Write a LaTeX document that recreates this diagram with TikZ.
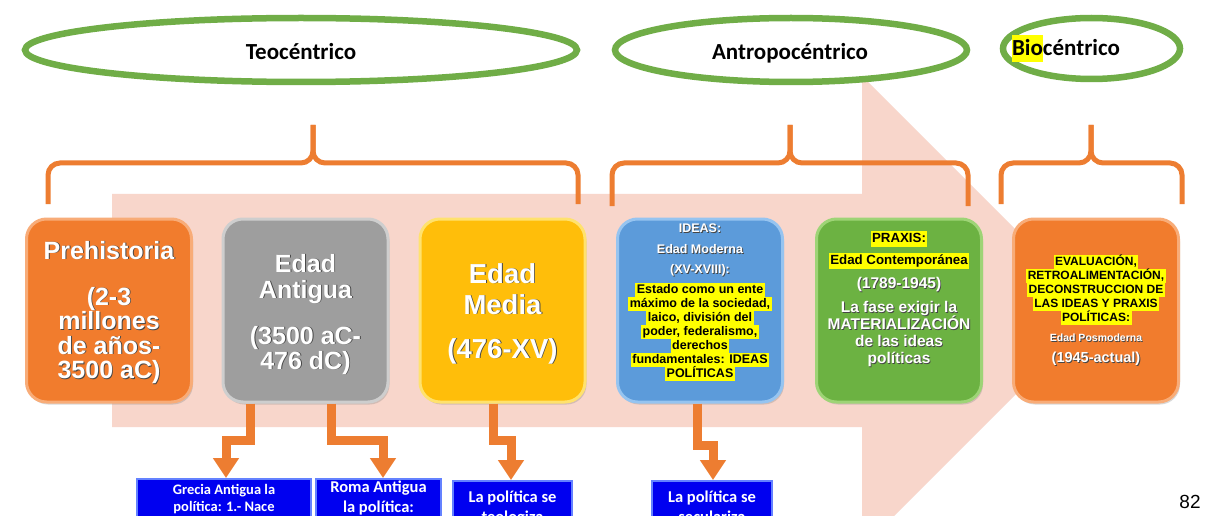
\documentclass[tikz,border=0pt]{standalone}
\usepackage{fontspec}
\setmainfont{Liberation Sans}
\newfontfamily\calib{Carlito}
\usetikzlibrary{arrows.meta,shapes.geometric,calc,shadows}
\definecolor{pinkbg}{RGB}{248,214,203}
\definecolor{grn}{RGB}{112,173,71}
\definecolor{orA}{RGB}{237,125,49}
\definecolor{hly}{RGB}{255,255,0}
\definecolor{shd}{RGB}{70,70,70}
\definecolor{orM}{RGB}{241,124,45}
\definecolor{orL}{RGB}{248,172,120}
\definecolor{gyM}{RGB}{158,158,158}
\definecolor{gyL}{RGB}{206,206,206}
\definecolor{gdM}{RGB}{255,190,10}
\definecolor{gdL}{RGB}{255,226,110}
\definecolor{blM}{RGB}{92,155,218}
\definecolor{blL}{RGB}{150,196,240}
\definecolor{gnM}{RGB}{108,178,66}
\definecolor{gnL}{RGB}{158,212,118}
\definecolor{bbx}{RGB}{0,0,240}
\definecolor{bbL}{RGB}{100,130,255}
\newcommand\sh[1]{\leavevmode\rlap{\kern0.9pt\raisebox{-0.9pt}{\textcolor{shd}{#1}}}#1}
\newcommand\hl[1]{{\setlength{\fboxsep}{0pt}\colorbox{hly}{\rule[-0.28em]{0pt}{1.15em}\kern1.5pt#1\kern1.5pt}}}
\newcommand\hlz[1]{{\setlength{\fboxsep}{0pt}\colorbox{hly}{\rule[-0.3em]{0pt}{1.2em}#1}}}
\begin{document}
\begin{tikzpicture}[x=1pt,y=-1pt,
  elp/.style={ellipse, draw=grn, line width=6.5pt, fill=white, inner sep=0pt},
  era/.style={rectangle, draw=#1L, fill=#1M, line width=3pt, rounded corners=20pt,
    minimum width=165pt, minimum height=183pt, inner sep=0pt,
    drop shadow={shadow xshift=1.5pt, shadow yshift=-2.5pt, opacity=0.3}},
  wt/.style={anchor=base, inner sep=0pt, text=white, font=\bfseries\fontsize{#1}{#1}\selectfont},
  bk/.style={anchor=base, inner sep=0pt, text=black, font=\bfseries\fontsize{#1}{#1}\selectfont},
  bw/.style={anchor=base, inner sep=0pt, text=white, font=\calib\bfseries\fontsize{#1}{#1}\selectfont},
  elabel/.style={anchor=base, inner sep=0pt, text=black, font=\calib\bfseries\fontsize{23}{23}\selectfont},
  bluebox/.style={rectangle, anchor=north, draw=bbL, fill=bbx, line width=1.5pt, minimum height=80pt, inner sep=0pt},
  brc/.style={draw=orA, line width=5pt, rounded corners=12pt},
  elbow/.style={draw=orA, line width=9pt, line join=miter, -{Triangle[width=25pt,length=20pt]}}
]
\useasboundingbox (0,0) rectangle (1208,516);
\clip (0,0) rectangle (1208,516);
\fill[white] (0,0) rectangle (1208,516);
% big background arrow
\fill[pinkbg] (112,194) -- (862,194) -- (862,76) -- (1098,312) -- (862,548) -- (862,427) -- (112,427) -- cycle;
% ellipses
\node[elp, minimum width=552pt, minimum height=64pt] (teo) at (301,50) {};
\node[elp, minimum width=352pt, minimum height=64pt] (ant) at (791,50) {};
\node[elp, minimum width=177pt, minimum height=61pt] (bio) at (1091.5,48.5) {};
\node[elabel] (teoT) at (301,59.5) {Teocéntrico};
\node[elabel] (antT) at (790,59.5) {Antropocéntrico};
\node[elabel] (bioT) at (1066,55.5) {\hlz{Bio}céntrico};
% braces
\draw[brc] (48,204) -- (48,163) -- (313,163) -- (313,125);
\draw[brc] (578,204) -- (578,163) -- (313,163) -- (313,125);
\draw[brc] (612,206) -- (612,163) -- (790,163) -- (790,125);
\draw[brc] (968,206) -- (968,163) -- (790,163) -- (790,125);
\draw[brc] (1001,204) -- (1001,163) -- (1091,163) -- (1091,125);
\draw[brc] (1182,204) -- (1182,163) -- (1091,163) -- (1091,125);
% era boxes
\node[era=or] (pre) at (109,310.5) {};
\node[era=gy] (anti) at (305.5,310.5) {};
\node[era=gd] (med) at (502.5,310.5) {};
\node[era=bl] (ide) at (700,310.5) {};
\node[era=gn] (pra) at (899,310.5) {};
\node[era=or] (eva) at (1096,310.5) {};
% Prehistoria
\node[wt=25] (p1) at (109,259) {\sh{Prehistoria}};
\node[wt=25] (p2) at (109,305) {\sh{(2-3}};
\node[wt=25] (p3) at (109,329.5) {\sh{millones}};
\node[wt=25] (p4) at (109,354) {\sh{de años-}};
\node[wt=25] (p5) at (109,378.5) {\sh{3500 aC)}};
% Edad Antigua
\node[wt=25] (a1) at (305.5,272) {\sh{Edad}};
\node[wt=25] (a2) at (305.5,298) {\sh{Antigua}};
\node[wt=25] (a3) at (305.5,344) {\sh{(3500 aC-}};
\node[wt=25] (a4) at (305.5,369) {\sh{476 dC)}};
% Edad Media
\node[wt=27.5] (m1) at (502.5,283) {\sh{Edad}};
\node[wt=27.5] (m2) at (502.5,314) {\sh{Media}};
\node[wt=27.5] (m3) at (502.5,358) {\sh{(476-XV)}};
% IDEAS
\node[wt=12.5] (i1) at (700,232.5) {\sh{IDEAS:}};
\node[wt=12.5] (i2) at (700,253.5) {\sh{Edad Moderna}};
\node[wt=12.5] (i3) at (700,273.5) {\sh{(XV-XVIII):}};
\node[bk=12.5] (i4) at (700,293.5) {\hl{Estado como un ente}};
\node[bk=12.5] (i5) at (700,307.5) {\hl{máximo de la sociedad,}};
\node[bk=12.5] (i6) at (700,321.5) {\hl{laico, división del}};
\node[bk=12.5] (i7) at (700,335.5) {\hl{poder, federalismo,}};
\node[bk=12.5] (i8) at (700,349.5) {\hl{derechos}};
\node[bk=12.5] (i9) at (700,363.5) {\hl{fundamentales: IDEAS}};
\node[bk=12.5] (i10) at (700,377.5) {\hl{POLÍTICAS}};
% PRAXIS
\node[bk=13.3] (x1) at (899,242.8) {\hl{PRAXIS:}};
\node[bk=13.3] (x2) at (899,264.8) {\hl{Edad Contemporánea}};
\node[wt=15.5] (x3) at (899,288.6) {\sh{(1789-1945)}};
\node[wt=15.5] (x4) at (899,312.6) {\sh{La fase exigir la}};
\node[wt=15.5] (x5) at (899,329.6) {\sh{MATERIALIZACIÓN}};
\node[wt=15.5] (x6) at (899,346.6) {\sh{de las ideas}};
\node[wt=15.5] (x7) at (899,363.6) {\sh{políticas}};
% EVALUACION
\node[bk=12] (e1) at (1096,265.3) {\hl{EVALUACIÓN,}};
\node[bk=12] (e2) at (1096,279.3) {\hl{RETROALIMENTACIÓN,}};
\node[bk=12] (e3) at (1096,293.3) {\hl{DECONSTRUCCION DE}};
\node[bk=12] (e4) at (1096,307.3) {\hl{LAS IDEAS Y PRAXIS}};
\node[bk=12] (e5) at (1096,321.3) {\hl{POLÍTICAS:}};
\node[wt=10.5] (e6) at (1096,341.8) {\sh{Edad Posmoderna}};
\node[wt=14.5] (e7) at (1096,362.2) {\sh{(1945-actual)}};
% blue boxes
\node[bluebox, minimum width=174pt] (gre) at (224,478) {};
\node[bluebox, minimum width=125pt] (rom) at (378.5,478) {};
\node[bluebox, minimum width=119pt] (teol) at (512.5,480) {};
\node[bluebox, minimum width=120pt] (sec) at (712,480) {};
\node[bw=14.5] (g1) at (224,494.6) {Grecia Antigua la};
\node[bw=14.5] (g2) at (224,511.6) {política: 1.- Nace};
\node[bw=16.5] (r1) at (378.5,492.3) {Roma Antigua};
\node[bw=16.5] (r2) at (378.5,512.3) {la política:};
\node[bw=16.5] (t1) at (512.5,502.3) {La política se};
\node[bw=16.5] (t2) at (512.5,522) {teologiza};
\node[bw=16.5] (s1) at (712,502.3) {La política se};
\node[bw=16.5] (s2) at (712,522) {seculariza};
% elbow arrows
\draw[elbow] ($(anti.south)+(-55.5,0)$) -- ++(0,37) -| ($(gre.north)+(2,0)$);
\draw[elbow] ($(anti.south)+(25.5,0)$) -- ++(0,37) -| ($(rom.north)+(4.5,0)$);
\draw[elbow] ($(med.south)+(-9.5,0)$) -- ++(0,37) -| ($(teol.north)+(-1.5,0)$);
\draw[elbow] ($(ide.south)+(-3,0)$) -- ++(0,42) -| ($(sec.north)+(1,0)$);
% page number
\node[anchor=base, inner sep=0pt, font=\fontsize{19}{19}\selectfont] (pg) at (1190,508.8) {82};
\end{tikzpicture}
\end{document}
